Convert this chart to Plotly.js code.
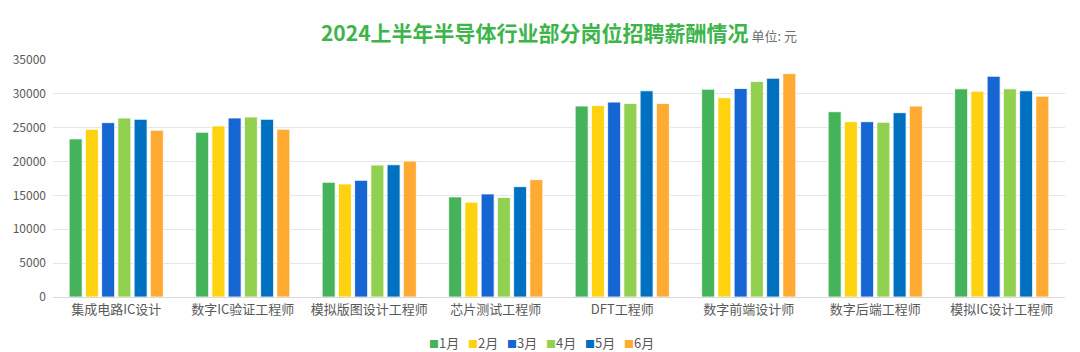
<!DOCTYPE html>
<html>
<head>
<meta charset="utf-8">
<script src="https://cdn.plot.ly/plotly-3.0.1.min.js"></script>
<style>html,body{margin:0;padding:0;background:#fff;}#chart{width:1080px;height:352px;}</style>
</head>
<body>
<div id="chart"></div>
<script>
const categories = ["集成电路IC设计","数字IC验证工程师","模拟版图设计工程师","芯片测试工程师","DFT工程师","数字前端设计师","数字后端工程师","模拟IC设计工程师"];
const months = ["1月","2月","3月","4月","5月","6月"];
const m1 = [23350,24330,16940,14780,28200,30690,27360,30740];
const m2 = [24770,25260,16690,14000,28290,29420,25890,30400];
const m3 = [25750,26430,17230,15220,28780,30790,25890,32600];
const m4 = [26430,26580,19480,14690,28590,31820,25800,30740];
const m5 = [26240,26240,19530,16300,30450,32310,27220,30450];
const m6 = [24620,24770,20070,17330,28590,32990,28200,29660];
const colors = ["#45B35A","#FFD20F","#1565D2","#92D050","#0070C0","#FFAA33"];
const series = [m1,m2,m3,m4,m5,m6];

const traces = series.map((vals,i)=>({
  type:'bar', name: months[i], x: categories, y: vals,
  marker:{color:colors[i], line:{color:'rgba(255,255,255,0.8)', width:1}},
  hoverinfo:'x+y+name'
}));

const W = 1080, L = 53, R = 15;
const plotW = W - L - R;
const legendStartPx = 427, legendStepPx = 39;
const annotations = months.map((m,i)=>({
  xref:'paper', yref:'paper',
  x: (legendStartPx + i*legendStepPx - L)/plotW, xanchor:'left',
  y: -0.19, yanchor:'middle', showarrow:false,
  text:'<span style="color:'+colors[i]+';font-size:10px">■</span>'+m,
  font:{size:13, color:'#595959'}
}));

const layout = {
  width:W, height:352,
  margin:{l:L, r:R, t:60, b:55, autoexpand:false},
  paper_bgcolor:'#fff', plot_bgcolor:'#fff',
  font:{family:'"Noto Sans CJK SC", "Noto Sans", sans-serif', color:'#595959'},
  title:{
    text:'<b>2024上半年半导体行业部分岗位招聘薪酬情况</b><span style="font-size:13px;color:#707070"> 单位: 元</span>',
    font:{size:21, color:'#3DB54A', family:'"Noto Sans CJK SC", sans-serif'},
    x:0.5, xanchor:'center', xref:'paper', y:0.905, yanchor:'middle'
  },
  barmode:'group', bargap:0.23, bargroupgap:0.2,
  xaxis:{tickfont:{size:13, color:'#595959'}, showgrid:false, showline:true, linecolor:'#d9d9d9', ticks:'', automargin:false},
  yaxis:{range:[0,35000], dtick:5000, tickformat:'d', tickfont:{size:12, color:'#595959'},
         gridcolor:'#e6e6e6', gridwidth:1, zeroline:false, ticks:'', ticklabelstandoff:6, automargin:false},
  showlegend:false,
  annotations: annotations
};
Plotly.newPlot('chart', traces, layout, {displayModeBar:false, staticPlot:true});
</script>
</body>
</html>
